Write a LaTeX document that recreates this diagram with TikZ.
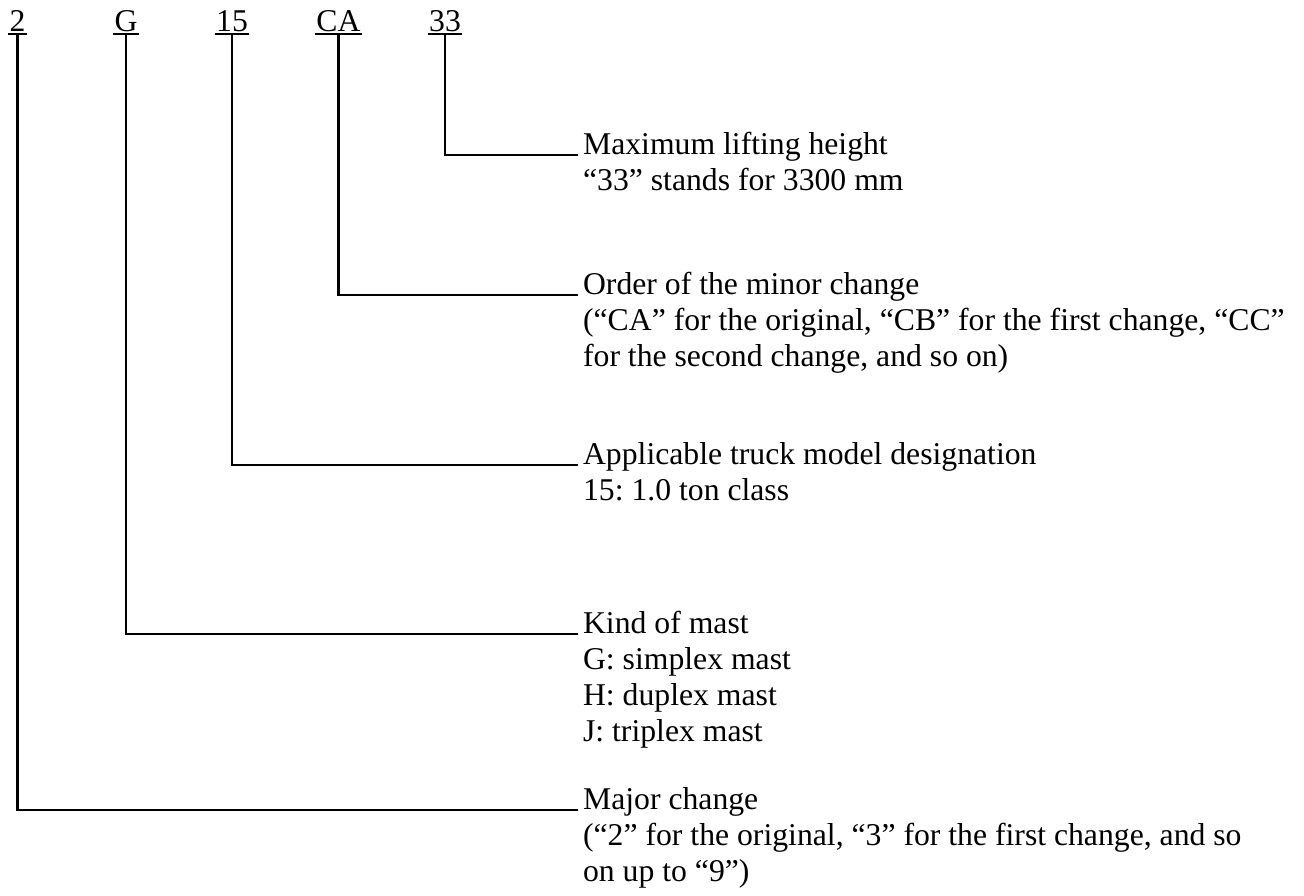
\documentclass[tikz,border=0pt]{standalone}
\usepackage{fontspec}
\setmainfont{Liberation Serif}
\frenchspacing
\begin{document}
\begin{tikzpicture}[x=1pt,y=-1pt,line width=2.2pt,
  lbl/.style={inner sep=0pt,anchor=base,font=\fontsize{31.7}{36}\selectfont},
  desc/.style={inner sep=0pt,anchor=base west,xshift=4pt,font=\fontsize{31.7}{36}\selectfont\frenchspacing},
  conn/.style={draw=black,line width=2.2pt}]
\useasboundingbox (0,0) rectangle (1304,895);
% top labels
\node[lbl] (l2)  at (17.5,31.5) {2};
\node[lbl] (lG)  at (126,31.5) {G};
\node[lbl] (l15) at (232,31.5) {15};
\node[lbl] (lCA) at (338.5,31.5) {CA};
\node[lbl] (l33) at (445,31.5) {33};
% underline anchors
\foreach \n in {l2,lG,l15,lCA,l33}{
  \coordinate (\n-uw) at ([yshift=-2.5pt]\n.base west);
  \coordinate (\n-ue) at ([yshift=-2.5pt]\n.base east);
  \coordinate (\n-u)  at ([yshift=-2.5pt]\n.base);
  \draw[conn,line width=1.8pt] (\n-uw) -- (\n-ue);
}
% line ends
\coordinate (e33) at (578,155);
\coordinate (eCA) at (578,295);
\coordinate (e15) at (578,465);
\coordinate (eG)  at (578,634);
\coordinate (e2)  at (578,810);
% connectors
\draw[conn] (l33-u) |- (e33);
\draw[conn] (lCA-u) |- (eCA);
\draw[conn] (l15-u) |- (e15);
\draw[conn] (lG-u)  |- (eG);
\draw[conn] (l2-u)  |- (e2);
% descriptions
\node[desc] (d33) at ([yshift=1pt]e33) {\begin{tabular}[t]{@{}l@{}}Maximum lifting height\\“33” stands for 3300 mm\end{tabular}};
\node[desc] (dCA) at ([yshift=1pt]eCA) {\begin{tabular}[t]{@{}l@{}}Order of the minor change\\(“CA” for the original, “CB” for the first change, “CC”\\for the second change, and so on)\end{tabular}};
\node[desc] (d15) at ([yshift=1pt]e15) {\begin{tabular}[t]{@{}l@{}}Applicable truck model designation\\15: 1.0 ton class\end{tabular}};
\node[desc] (dG) at ([yshift=1pt]eG) {\begin{tabular}[t]{@{}l@{}}Kind of mast\\G: simplex mast\\H: duplex mast\\J: triplex mast\end{tabular}};
\node[desc] (d2) at ([yshift=1pt]e2) {\begin{tabular}[t]{@{}l@{}}Major change\\(“2” for the original, “3” for the first change, and so\\on up to “9”)\end{tabular}};
\end{tikzpicture}
\end{document}
